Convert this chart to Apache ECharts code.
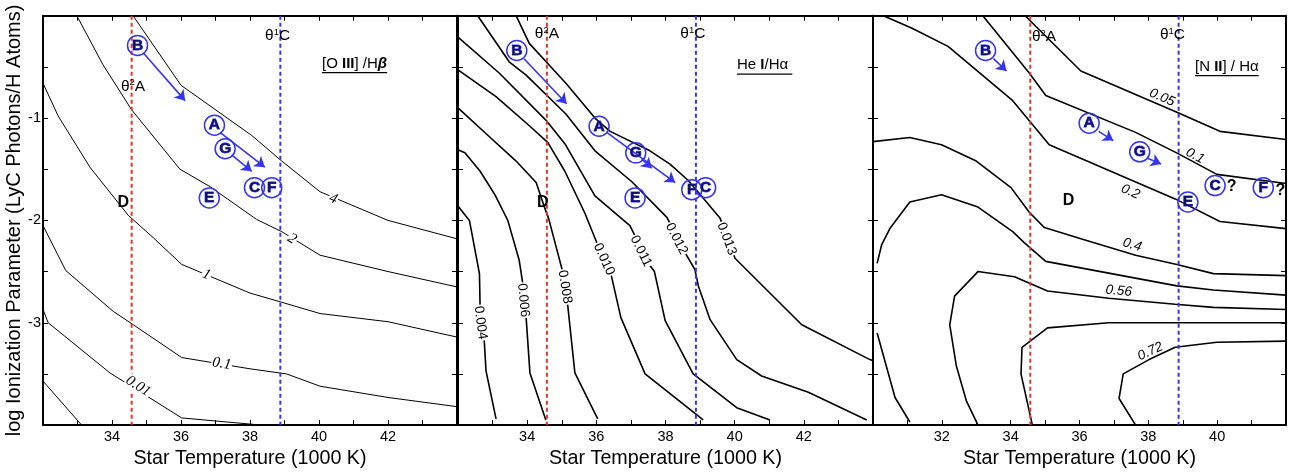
<!DOCTYPE html>
<html>
<head>
<meta charset="utf-8">
<script src="https://cdn.jsdelivr.net/npm/echarts@6/dist/echarts.min.js"></script>
<style>
html, body { margin: 0; padding: 0; background: #fff; }
#main { width: 1289px; height: 474px; }
</style>
</head>
<body>
<div id="main"></div>
<script>
// values: [star temperature (1000 K), log U]

// panel 1: [O III]/Hb
var oiiiLevels = ['4', '2', '1', '0.1', '0.01', ''];
var oiii4 = [[34.61,0],[36.0,-0.68],[38.05,-1.17],[38.92,-1.42],[40.03,-1.72],[42.0,-2.0],[44,-2.18]];
var oiii2 = [[32.98,0],[33.74,-0.48],[34.57,-0.92],[35.97,-1.50],[36.84,-1.67],[38.19,-1.99],[38.92,-2.11],[40.03,-2.34],[42.0,-2.50],[44,-2.65]];
var oiii1 = [[32,-0.66],[32.44,-0.98],[33.36,-1.48],[34.47,-1.95],[35.2,-2.17],[36.02,-2.43],[38.0,-2.71],[38.92,-2.80],[40.03,-2.91],[42.0,-2.99],[44,-3.14]];
var oiii01 = [[32,-2.05],[32.66,-2.49],[34.04,-2.89],[34.62,-3.02],[36.02,-3.34],[38.0,-3.45],[39.06,-3.50],[40.03,-3.62],[42.0,-3.73],[44,-3.82]];
var oiii001 = [[32,-2.87],[32.15,-3.0],[33.94,-3.49],[36.02,-3.93],[38.0,-3.99],[38.34,-4.0]];
var oiii0001 = [[32,-3.57],[33.12,-4.0]];
var oiiiLabelPos = [[40.41,-1.79],[39.22,-2.18],[36.74,-2.53],[37.18,-3.40],[34.76,-3.62]];
var oiiiStars = ['B','A','G','C','F','E'];
var oiiiStarPos = [[34.74,-0.29],[36.97,-1.07],[37.28,-1.30],[38.13,-1.68],[38.63,-1.68],[36.82,-1.78]];
var oiiiD = [34.33,-1.83];
var oiiiArrows = [[[34.91,-0.365],[36.12,-0.83]], [[37.13,-1.14],[38.43,-1.48]], [[37.47,-1.36],[38.05,-1.52]]];
var oiiiTheta = [[34.61,-0.69],[38.80,-0.20]];

// panel 2: He I/Ha
var heiLevels = ['0.013','0.012','0.011','0.010','0.008','0.006','0.004'];
var hei013 = [[33.68,0],[34.06,-0.27],[35.12,-0.66],[35.96,-1.0],[36.40,-1.13],[37.55,-1.32],[38.13,-1.45],[38.66,-1.61],[39.58,-1.98],[40.01,-2.37],[41.94,-3.02],[43.91,-3.36],[44,-3.37]];
var hei012 = [[32.57,0],[33.48,-0.45],[33.97,-0.58],[35.12,-0.96],[35.96,-1.32],[37.02,-1.62],[38.04,-1.97],[38.59,-2.33],[38.85,-2.48],[38.95,-2.64],[39.29,-2.97],[40.06,-3.36],[40.78,-3.52],[42.13,-3.68],[43.82,-3.95]];
var hei011 = [[32,-0.21],[33.19,-0.56],[34.54,-1.02],[35.09,-1.25],[35.96,-1.76],[36.97,-2.05],[37.55,-2.44],[37.68,-2.50],[37.99,-2.98],[38.80,-3.50],[40.06,-3.83],[41.02,-3.95]];
var hei010 = [[32,-0.53],[33.10,-0.79],[34.08,-1.08],[34.60,-1.24],[35.09,-1.52],[35.67,-1.93],[36.04,-2.24],[36.42,-2.52],[36.71,-2.95],[37.41,-3.50],[39.09,-3.95]];
var hei008 = [[32,-0.90],[32.90,-1.18],[33.68,-1.42],[34.26,-1.63],[34.52,-1.89],[34.62,-1.98],[35.01,-2.48],[35.17,-2.82],[35.38,-3.49],[36.04,-3.94]];
var hei006 = [[32,-1.31],[32.20,-1.34],[32.64,-1.52],[33.07,-1.75],[33.44,-2.0],[33.77,-2.39],[33.87,-2.61],[33.97,-2.95],[34.08,-3.49],[34.54,-3.95]];
var hei004 = [[32,-1.86],[32.14,-1.92],[32.33,-2.0],[32.62,-2.52],[32.64,-2.86],[32.76,-3.18],[32.81,-3.47],[33.10,-3.94]];
var heiLabelPos = [[39.77,-2.18],[38.32,-2.18],[37.29,-2.30],[36.22,-2.38],[35.09,-2.65],[33.89,-2.78],[32.65,-3.0]];
var heiStars = ['B','A','G','F','C','E'];
var heiStarPos = [[33.70,-0.34],[36.08,-1.08],[37.14,-1.34],[38.76,-1.70],[39.16,-1.68],[37.12,-1.78]];
var heiD = [34.45,-1.83];
var heiArrows = [[[33.91,-0.42],[35.14,-0.86]], [[36.30,-1.14],[38.28,-1.63]], [[37.31,-1.40],[37.60,-1.49]]];
var heiTheta = [[34.57,-0.18],[38.79,-0.18]];

// panel 3: [N II]/Ha
var niiLevels = ['0.05','0.1','0.2','0.4','0.56','0.72','','',''];
var nii005 = [[34.42,0],[36.04,-0.54],[38.88,-0.95],[40.08,-1.13],[42,-1.21]];
var nii01 = [[33.19,0],[34.54,-0.56],[35.02,-0.78],[37.63,-1.14],[38.88,-1.35],[39.99,-1.55],[42,-1.64]];
var nii02 = [[30.30,0],[31.12,-0.12],[32.18,-0.30],[34.06,-0.83],[35.12,-1.26],[38.78,-1.79],[40.08,-2.01],[42,-2.08]];
var nii04 = [[30,-1.23],[31.07,-1.19],[31.99,-1.26],[33.0,-1.42],[34.01,-1.68],[34.54,-1.92],[34.98,-2.07],[36.04,-2.18],[37.63,-2.34],[38.83,-2.43],[39.89,-2.52],[42,-2.54]];
var nii056 = [[33.05,-4.0],[32.71,-3.76],[32.42,-3.42],[32.23,-3.02],[32.37,-2.74],[33.05,-2.50],[34.11,-2.55],[35.07,-2.69],[36.85,-2.76],[38.78,-2.82],[39.89,-2.85],[42,-2.87]];
var nii072 = [[37.63,-4.0],[37.15,-3.74],[37.27,-3.50],[38.02,-3.36],[38.78,-3.24],[39.99,-3.19],[42,-3.18]];
var nii048 = [[30.12,-2.42],[30.25,-2.24],[30.49,-2.08],[31.07,-1.82],[31.99,-1.75],[33.05,-1.87],[34.06,-2.11],[34.40,-2.22],[35.02,-2.40],[38.83,-2.64],[39.89,-2.68],[42,-2.73]];
var nii064 = [[34.63,-4.0],[34.30,-3.50],[34.33,-3.24],[35.07,-3.05],[36.85,-3.0],[42,-3.0]];
var niiCorner = [[30.12,-3.1],[30.64,-3.73],[31.07,-3.97]];
var niiLabelPos = [[38.40,-0.80],[39.36,-1.37],[37.48,-1.72],[37.53,-2.24],[37.14,-2.69],[38.06,-3.28]];
var niiStars = ['B','A','G','C','F','E'];
var niiStarPos = [[33.27,-0.34],[36.28,-1.05],[37.75,-1.33],[39.94,-1.66],[41.34,-1.68],[39.15,-1.82]];
var niiD = [35.68,-1.81];
var niiQuery = [[40.42,-1.67],[41.84,-1.71]];
var niiArrows = [[[33.50,-0.42],[33.88,-0.54]], [[36.56,-1.13],[36.98,-1.22]], [[37.96,-1.39],[38.37,-1.45]]];
var niiTheta = [[34.97,-0.21],[38.70,-0.19]];

// star temperatures (vertical lines) and tick labels
var theta2A = 34.57;
var theta1C = 38.88;
var xTickLabels1 = [34, 36, 38, 40, 42];
var xTickLabels3 = [32, 34, 36, 38, 40];
var yTickLabels = [-1, -2, -3];

var FONT = '"Liberation Sans", Arial, sans-serif';
var BLUE = '#3434f2';
var RED = '#e2352b';

var panels = [
  { grid: {left: 43, top: 15.7, width: 414, height: 412.3}, xMin: 32, xMax: 44, xLabels: xTickLabels1,
    lines: [oiii4, oiii2, oiii1, oiii01, oiii001, oiii0001], levels: oiiiLevels, labelPos: oiiiLabelPos,
    stars: oiiiStars, starPos: oiiiStarPos, d: oiiiD, arrows: oiiiArrows, theta: oiiiTheta, query: [],
    lineWidth: 1, labelFont: {fontFamily: '"Liberation Serif", "Times New Roman", serif', fontStyle: 'italic', fontSize: 15}, labelBg: '#fff' },
  { grid: {left: 458, top: 15.7, width: 415, height: 412.3}, xMin: 32, xMax: 44, xLabels: xTickLabels1,
    lines: [hei013, hei012, hei011, hei010, hei008, hei006, hei004], levels: heiLevels, labelPos: heiLabelPos,
    stars: heiStars, starPos: heiStarPos, d: heiD, arrows: heiArrows, theta: heiTheta, query: [],
    lineWidth: 1.6, labelFont: {fontFamily: FONT, fontSize: 13.5}, labelBg: '#fff' },
  { grid: {left: 873, top: 15.7, width: 415, height: 412.3}, xMin: 30, xMax: 42, xLabels: xTickLabels3,
    lines: [nii005, nii01, nii02, nii04, nii056, nii072, nii048, nii064, niiCorner], levels: niiLevels, labelPos: niiLabelPos,
    stars: niiStars, starPos: niiStarPos, d: niiD, arrows: niiArrows, theta: niiTheta, query: niiQuery,
    lineWidth: 1.6, labelFont: {fontFamily: FONT, fontStyle: 'italic', fontSize: 13.5}, labelBg: null }
];

// angle of a contour label, taken from the nearest segment of its own line in pixel space
function labelAngle(pt, line, p) {
  var sx = p.grid.width / (p.xMax - p.xMin), sy = p.grid.height / 4;
  var best = [1, 0], bd = Infinity;
  for (var k = 0; k < line.length - 1; k++) {
    var ax = line[k][0] * sx, ay = -line[k][1] * sy;
    var bx = line[k + 1][0] * sx, by = -line[k + 1][1] * sy;
    var px = pt[0] * sx, py = -pt[1] * sy;
    var dx = bx - ax, dy = by - ay;
    var t = ((px - ax) * dx + (py - ay) * dy) / (dx * dx + dy * dy);
    t = Math.max(0, Math.min(1, t));
    var qx = ax + t * dx - px, qy = ay + t * dy - py;
    var d = qx * qx + qy * qy;
    if (d < bd) { bd = d; best = [dx, dy]; }
  }
  if (best[0] < 0) { best = [-best[0], -best[1]]; }
  return -Math.atan2(best[1], best[0]) * 180 / Math.PI;
}

var axisLine = {show: true, onZero: false, lineStyle: {color: '#000', width: 2}};
var axisTick = {show: true, inside: true, length: 5, lineStyle: {color: '#000', width: 1}};
// invisible anchor for pure text marks
var anchor = {symbolSize: 0, itemStyle: {color: '#000', opacity: 1}};

var grids = [], xAxes = [], yAxes = [], series = [];

panels.forEach(function (p, i) {
  grids.push(p.grid);
  xAxes.push({
    gridIndex: i, type: 'value', min: p.xMin, max: p.xMax, interval: 1, position: 'bottom',
    axisLine: axisLine, axisTick: axisTick, splitLine: {show: false},
    axisLabel: {margin: 4, color: '#000', fontSize: 14.5, fontFamily: FONT,
      formatter: function (v) { return p.xLabels.indexOf(v) >= 0 ? String(v) : ''; }},
    name: 'Star Temperature (1000 K)', nameLocation: 'middle', nameGap: 19,
    nameTextStyle: {color: '#000', fontSize: 19.7, fontFamily: FONT}
  });
  xAxes.push({
    gridIndex: i, type: 'value', min: p.xMin, max: p.xMax, interval: 1, position: 'top',
    axisLine: axisLine, axisTick: axisTick, splitLine: {show: false}, axisLabel: {show: false}
  });
  yAxes.push({
    gridIndex: i, type: 'value', min: -4, max: 0, interval: 0.5, position: 'left',
    axisLine: axisLine, axisTick: axisTick, splitLine: {show: false},
    axisLabel: {show: i === 0, margin: 2, color: '#000', fontSize: 14.5, fontFamily: FONT,
      formatter: function (v) { return yTickLabels.indexOf(v) >= 0 ? String(v) : ''; }},
    name: i === 0 ? 'log Ionization Parameter (LyC Photons/H Atoms)' : '',
    nameLocation: 'middle', nameGap: 17,
    nameTextStyle: {color: '#000', fontSize: 20, fontFamily: FONT}
  });
  yAxes.push({
    gridIndex: i, type: 'value', min: -4, max: 0, interval: 0.5, position: 'right',
    axisLine: axisLine, axisTick: axisTick, splitLine: {show: false}, axisLabel: {show: false}
  });

  var xi = 2 * i, yi = 2 * i;

  p.lines.forEach(function (line) {
    series.push({type: 'line', xAxisIndex: xi, yAxisIndex: yi, data: line, symbol: 'none', silent: true,
      lineStyle: {color: '#000', width: p.lineWidth}, z: 2});
  });

  [[theta2A, RED], [theta1C, BLUE]].forEach(function (v) {
    series.push({type: 'line', xAxisIndex: xi, yAxisIndex: yi, data: [[v[0], 0], [v[0], -4]], symbol: 'none', silent: true,
      lineStyle: {color: v[1], width: 2, type: [4, 3]}, z: 3});
  });

  var lbl = Object.assign({show: true, position: 'inside', color: '#000', padding: [0, 1], textBorderWidth: 0}, p.labelFont);
  if (p.labelBg) { lbl.backgroundColor = p.labelBg; }
  series.push(Object.assign({type: 'scatter', xAxisIndex: xi, yAxisIndex: yi, silent: true, label: lbl, z: 4,
    data: p.labelPos.map(function (pt, k) {
      return {value: pt, label: {formatter: p.levels[k], rotate: labelAngle(pt, p.lines[k], p)}};
    })
  }, anchor));

  series.push(Object.assign({type: 'scatter', xAxisIndex: xi, yAxisIndex: yi, silent: true, z: 5,
    label: {show: true, position: 'inside', color: '#000', fontSize: 15.5, fontFamily: FONT, lineHeight: 17,
      textBorderWidth: 0,
      formatter: function (d) { return d.name; },
      rich: {s: {fontSize: 9.5, verticalAlign: 'top', lineHeight: 17, fontFamily: FONT, color: '#000', textBorderWidth: 0}}},
    data: [{value: p.theta[0], name: '\u03b8{s|2}A'}, {value: p.theta[1], name: '\u03b8{s|1}C'}]
  }, anchor));

  series.push({type: 'lines', coordinateSystem: 'cartesian2d', xAxisIndex: xi, yAxisIndex: yi, silent: true,
    symbol: ['none', 'arrow'], symbolSize: 10, lineStyle: {color: BLUE, width: 1.6, opacity: 1}, z: 6,
    data: p.arrows.map(function (a) { return {coords: a}; })
  });

  series.push({type: 'scatter', xAxisIndex: xi, yAxisIndex: yi, symbol: 'circle', symbolSize: 20, silent: true,
    itemStyle: {color: 'rgba(255,255,255,0)', borderColor: BLUE, borderWidth: 1.5, opacity: 1}, z: 7,
    label: {show: true, position: 'inside', formatter: '{b}', fontWeight: 'bold', fontSize: 15.5,
      fontFamily: FONT, color: '#10106a', textBorderColor: BLUE, textBorderWidth: 0.8, opacity: 1},
    data: p.starPos.map(function (pt, k) { return {value: pt, name: p.stars[k]}; })
  });

  var plain = [{value: p.d, name: 'D'}].concat(p.query.map(function (pt) { return {value: pt, name: '?'}; }));
  series.push(Object.assign({type: 'scatter', xAxisIndex: xi, yAxisIndex: yi, silent: true, z: 7,
    label: {show: true, position: 'inside', formatter: '{b}', fontWeight: 'bold', fontSize: 16,
      fontFamily: FONT, color: '#000', textBorderWidth: 0},
    data: plain
  }, anchor));
});

// underlined panel titles
var ctx = document.createElement('canvas').getContext('2d');
function textWidth(parts) {
  var w = 0;
  parts.forEach(function (s) { ctx.font = s[1]; w += ctx.measureText(s[0]).width; });
  return w;
}
var reg = '15px "Liberation Sans"', bld = 'bold 15px "Liberation Sans"', bi = 'italic bold 15px "Liberation Sans"';
var titles = [
  {x: 322, y: 65, text: '[O {b|III}] /H{g|\u03b2}', parts: [['[O ', reg], ['III', bld], ['] /H', reg], ['\u03b2', bi]]},
  {x: 737, y: 66.5, text: 'He {b|I}/H\u03b1 ', parts: [['He ', reg], ['I', bld], ['/H\u03b1 ', reg]]},
  {x: 1195, y: 68, text: '[N {b|II}] / H\u03b1', parts: [['[N ', reg], ['II', bld], ['] / H\u03b1', reg]]}
];
var graphic = [];
titles.forEach(function (t) {
  var w = textWidth(t.parts);
  graphic.push({type: 'text', left: t.x, top: t.y - 9, z: 10, silent: true,
    style: {text: t.text, fill: '#000', font: reg,
      rich: {b: {fontWeight: 'bold', fontSize: 15, fontFamily: FONT},
             g: {fontWeight: 'bold', fontStyle: 'italic', fontSize: 15, fontFamily: FONT}}}});
  graphic.push({type: 'rect', left: t.x, top: t.y + 7, z: 10, silent: true,
    shape: {width: w, height: 1.3}, style: {fill: '#000'}});
});

var myChart = echarts.init(document.getElementById('main'));
var option = {
  animation: false,
  backgroundColor: '#fff',
  grid: grids,
  xAxis: xAxes,
  yAxis: yAxes,
  series: series,
  graphic: graphic
};
myChart.setOption(option);
</script>
</body>
</html>
